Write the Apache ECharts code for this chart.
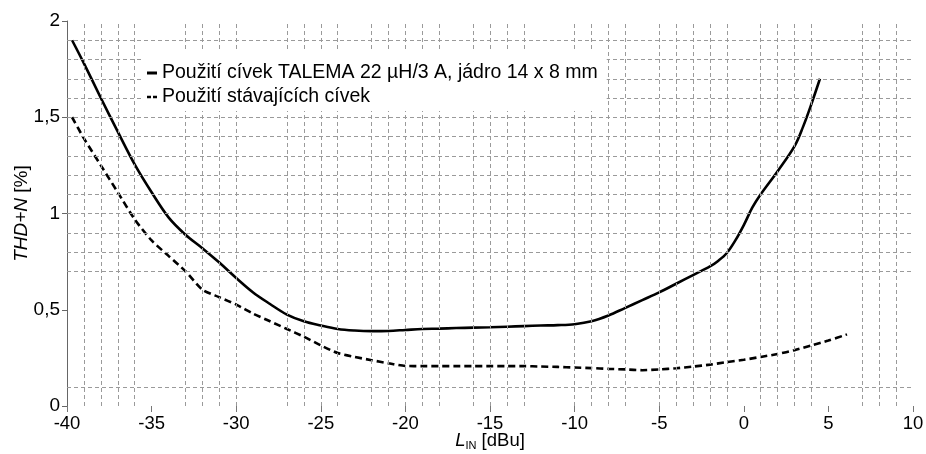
<!DOCTYPE html>
<html>
<head>
<meta charset="utf-8">
<script src="https://cdn.jsdelivr.net/npm/echarts@6/dist/echarts.min.js"></script>
<style>
  html, body { margin: 0; padding: 0; background: #fff; }
  #chart { width: 926px; height: 454px; }
</style>
</head>
<body>
<div id="chart"></div>
<script>
// Input level L_IN [dBu] and THD+N [%] for the two coil variants
const talemaX = [-39.7, -39, -38, -37, -36, -35, -34, -33, -32, -31, -30, -29, -28, -27, -26, -25, -24, -23, -22, -21, -20, -19, -18, -17, -16, -15, -14, -13, -12, -11, -10, -9, -8, -7, -6, -5, -4, -3, -2, -1.5, -1, -0.5, 0, 0.5, 1, 2, 3, 3.5, 4, 4.5];
const talemaY = [1.90, 1.78, 1.60, 1.425, 1.255, 1.11, 0.98, 0.89, 0.82, 0.745, 0.665, 0.59, 0.53, 0.475, 0.44, 0.418, 0.40, 0.392, 0.389, 0.39, 0.395, 0.40, 0.402, 0.405, 0.407, 0.409, 0.412, 0.415, 0.418, 0.42, 0.425, 0.44, 0.47, 0.51, 0.55, 0.59, 0.635, 0.68, 0.725, 0.755, 0.795, 0.86, 0.94, 1.03, 1.10, 1.22, 1.35, 1.45, 1.57, 1.70];

const oldX = [-39.7, -39, -38, -37, -36, -35, -34, -33, -32, -31, -30, -29, -28, -27, -26, -25, -24, -23, -22, -21, -20, -19, -18, -17, -16, -15, -14, -13, -12, -11, -10, -9, -8, -7, -6, -5, -4, -3, -2, -1, 0, 1, 2, 3, 4, 5, 6.1];
const oldY = [1.50, 1.39, 1.25, 1.11, 0.97, 0.86, 0.78, 0.70, 0.605, 0.565, 0.527, 0.48, 0.44, 0.40, 0.36, 0.315, 0.275, 0.255, 0.238, 0.222, 0.208, 0.207, 0.207, 0.207, 0.207, 0.207, 0.207, 0.207, 0.205, 0.203, 0.20, 0.197, 0.193, 0.19, 0.186, 0.19, 0.196, 0.205, 0.215, 0.228, 0.24, 0.255, 0.27, 0.29, 0.315, 0.34, 0.372];

const seriesNames = ['Použití cívek TALEMA 22 µH/3 A, jádro 14 x 8 mm', 'Použití stávajících cívek'];

// Auxiliary dashed grid positions
const gridXValues = [-39, -38, -37, -36, -33, -32, -31, -30, -27, -26, -25, -24, -22, -21, -20, -19, -18, -16, -15, -14, -13, -10, -9, -8, -7, -5, -4, -3, -2, -1, 1, 2, 3, 4, 7, 8, 9];
const gridYValues = [0.1, 0.7, 0.8, 0.9, 1.0, 1.1, 1.2, 1.3, 1.4, 1.5, 1.6, 1.7, 1.8, 1.9];

const FONT = "'Liberation Sans', Arial, Helvetica, sans-serif";
const zip = (xs, ys) => xs.map((x, i) => [x, ys[i]]);

const gridLineStyle = { color: '#9a9a9a', width: 1, type: [4, 3] };

// legend keys: a short solid bar and a two-dash bar (leading moveTo points fix the icon box)
const solidIcon = 'path://M0,0M10,14M0,5.5h10v3h-10z';
const dashIcon = 'path://M0,0M10,14M0,5.8h4v2.4h-4zM6,5.8h4v2.4h-4z';

const chart = echarts.init(document.getElementById('chart'), null, { renderer: 'canvas' });
chart.setOption({
  animation: false,
  backgroundColor: '#fff',
  textStyle: { fontFamily: FONT },
  grid: { left: 67, right: 13, top: 21, bottom: 48, containLabel: false, outerBoundsMode: 'none' },
  legend: {
    data: [
      { name: seriesNames[0], icon: solidIcon, itemStyle: { color: '#000' } },
      { name: seriesNames[1], icon: dashIcon, itemStyle: { color: '#000' } }
    ],
    orient: 'vertical',
    left: 142,
    top: 52,
    padding: [10, 9, 3, 5],
    itemWidth: 10,
    itemHeight: 14,
    itemGap: 2,
    backgroundColor: '#fff',
    textStyle: { fontFamily: FONT, fontSize: 19.5, color: '#000', lineHeight: 22 },
    selectedMode: false,
    z: 10
  },
  xAxis: {
    type: 'value',
    min: -40, max: 10, interval: 5,
    name: '{l|L}{s|IN}{t| [dBu]}',
    nameLocation: 'middle',
    nameGap: 25,
    nameMoveOverlap: false,
    nameTextStyle: {
      fontFamily: FONT, fontSize: 18.5, color: '#000', lineHeight: 20,
      rich: {
        l: { fontFamily: FONT, fontSize: 18.5, fontStyle: 'italic', color: '#000', lineHeight: 20 },
        s: { fontFamily: FONT, fontSize: 11, color: '#000', lineHeight: 11, verticalAlign: 'bottom' },
        t: { fontFamily: FONT, fontSize: 18.5, color: '#000', lineHeight: 20 }
      }
    },
    axisLine: { show: false, onZero: false },
    axisTick: { show: true, length: 6, lineStyle: { color: '#777' } },
    axisLabel: { fontFamily: FONT, fontSize: 18.5, color: '#000', margin: 8 },
    splitLine: { show: false }
  },
  yAxis: {
    type: 'value',
    min: 0, max: 2, interval: 0.5,
    name: '{i|THD+N}{r| [%]}',
    nameLocation: 'middle',
    nameRotate: 90,
    nameGap: 34,
    nameMoveOverlap: false,
    nameTextStyle: {
      fontFamily: FONT, fontSize: 19, color: '#000', lineHeight: 22,
      rich: {
        i: { fontFamily: FONT, fontSize: 19, fontStyle: 'italic', color: '#000', lineHeight: 22 },
        r: { fontFamily: FONT, fontSize: 19, color: '#000', lineHeight: 22 }
      }
    },
    axisLine: { show: true, onZero: false, lineStyle: { color: '#666', width: 1 } },
    axisTick: { show: true, length: 5, lineStyle: { color: '#666' } },
    axisLabel: {
      fontFamily: FONT, fontSize: 19, color: '#000', margin: 7,
      formatter: v => String(v).replace('.', ',')
    },
    splitLine: { show: false }
  },
  series: [
    {
      // grid helper: dashed reference lines only
      type: 'line',
      data: [],
      z: 1,
      silent: true,
      markLine: {
        silent: true,
        symbol: ['none', 'none'],
        label: { show: false },
        lineStyle: gridLineStyle,
        emphasis: { disabled: true },
        data: gridXValues.map(v => ({ xAxis: v })).concat(gridYValues.map(v => ({ yAxis: v })))
      }
    },
    {
      name: seriesNames[0],
      type: 'line',
      data: zip(talemaX, talemaY),
      showSymbol: false,
      symbol: 'none',
      smooth: 0.35,
      z: 3,
      lineStyle: { color: '#000', width: 2.6, type: 'solid' },
      itemStyle: { color: '#000' }
    },
    {
      name: seriesNames[1],
      type: 'line',
      data: zip(oldX, oldY),
      showSymbol: false,
      symbol: 'none',
      smooth: 0.25,
      z: 3,
      lineStyle: { color: '#000', width: 2.6, type: [7, 4] },
      itemStyle: { color: '#000' }
    }
  ]
});
</script>
</body>
</html>
